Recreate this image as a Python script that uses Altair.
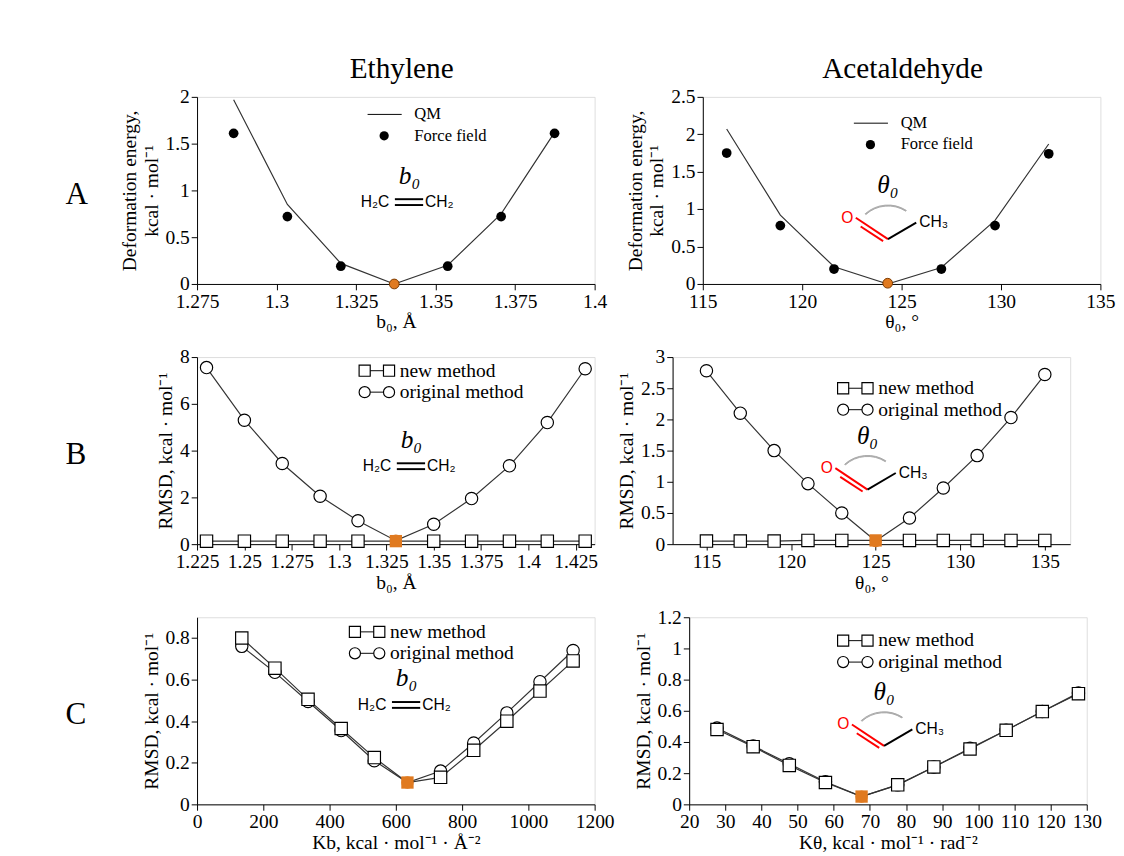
import pandas as pd
import altair as alt

SERIF = "Liberation Serif"
SANS = "Liberation Sans"
W, H = 408, 192

# ---- data ----
a_eth_x = [1.2865, 1.3034, 1.3202, 1.337, 1.3538, 1.3706, 1.3874]
a_eth_qm = [1.97, 0.85, 0.22, 0.0, 0.20, 0.75, 1.62]
a_eth_ff = [1.61, 0.72, 0.19, 0.0, 0.19, 0.72, 1.61]

a_ace_x = [116.2, 118.9, 121.6, 124.3, 127.0, 129.7, 132.4]
a_ace_qm = [2.07, 0.92, 0.23, 0.0, 0.22, 0.85, 1.87]
a_ace_ff = [1.75, 0.78, 0.20, 0.01, 0.20, 0.78, 1.74]

b_eth_x = [1.23, 1.25, 1.27, 1.29, 1.31, 1.33, 1.35, 1.37, 1.39, 1.41, 1.43]
b_eth_orig = [7.55, 5.3, 3.45, 2.05, 1.0, 0.15, 0.85, 1.95, 3.35, 5.2, 7.5]
b_eth_new = [0.13, 0.13, 0.13, 0.13, 0.13, 0.13, 0.13, 0.13, 0.13, 0.13, 0.13]

b_ace_x = [115, 117, 119, 121, 123, 125, 127, 129, 131, 133, 135]
b_ace_orig = [2.78, 2.1, 1.5, 0.97, 0.5, 0.05, 0.42, 0.9, 1.42, 2.03, 2.72]
b_ace_new = [0.05, 0.05, 0.05, 0.06, 0.06, 0.06, 0.06, 0.06, 0.06, 0.06, 0.06]

c_eth_x = [135, 235, 335, 435, 535, 635, 735, 835, 935, 1035, 1135]
c_eth_new = [0.80, 0.655, 0.505, 0.365, 0.225, 0.105, 0.13, 0.26, 0.40, 0.545, 0.69]
c_eth_orig = [0.76, 0.635, 0.495, 0.355, 0.21, 0.105, 0.16, 0.295, 0.44, 0.59, 0.74]

c_ace_x = [27.7, 37.7, 47.7, 57.7, 67.7, 77.7, 87.7, 97.7, 107.7, 117.7, 127.7]
c_ace_new = [0.48, 0.37, 0.25, 0.14, 0.05, 0.125, 0.24, 0.355, 0.475, 0.595, 0.71]
c_ace_orig = [0.49, 0.375, 0.26, 0.145, 0.05, 0.125, 0.24, 0.36, 0.475, 0.595, 0.715]

ORANGE = "#e07a20"

axis_style = dict(grid=False, labelFont=SERIF, titleFont=SERIF, labelFontSize=20, titleFontSize=20,
                  titleFontWeight="normal", labelColor="black", titleColor="black", labelOverlap=False,
                  domainColor="black", tickColor="black", labelExpr="toString(datum.value)", tickSize=6)


def xs(dom, ticks, title):
    ax = alt.Axis(values=ticks, tickCount=len(ticks), title=title, labelFlush=False, titlePadding=1,
                  **axis_style)
    return alt.Scale(domain=dom, nice=False, zero=False), ax


def ys(dom, ticks, title):
    ax = alt.Axis(values=ticks, tickCount=len(ticks), title=title, titlePadding=4, **axis_style)
    return alt.Scale(domain=dom, nice=False), ax


def txt(x, y, s, size=17, font=SERIF, color="black", style="normal", align="left"):
    return alt.Chart(pd.DataFrame({"t": [s]})).mark_text(
        font=font, fontSize=size, color=color, fontStyle=style, align=align, baseline="middle"
    ).encode(x=alt.value(x), y=alt.value(y), text="t:N")


def seg(x1, y1, x2, y2, color="black", w=1.5):
    return alt.Chart(pd.DataFrame({"a": [0]})).mark_rule(color=color, strokeWidth=w).encode(
        x=alt.value(x1), y=alt.value(y1), x2=alt.value(x2), y2=alt.value(y2))


def pt(x, y, shape, size=110, filled=False):
    return alt.Chart(pd.DataFrame({"a": [0]})).mark_point(
        shape=shape, size=size, filled=filled, color="black", strokeWidth=1.2,
        fill="black" if filled else "white", opacity=1
    ).encode(x=alt.value(x), y=alt.value(y))


def ethylene(x, y):
    return [txt(x, y, "H\u2082C", 16, SANS), seg(x + 35, y - 3, x + 64, y - 3, w=2),
            seg(x + 35, y + 3, x + 64, y + 3, w=2), txt(x + 66, y, "CH\u2082", 16, SANS),
            txt(x + 50, y - 27, "b\u2080", 26, SERIF, style="italic", align="center")]


def acetaldehyde(x, y):
    # x,y = vertex of the angle
    arc = alt.Chart(pd.DataFrame({"a": [0]})).mark_arc(
        radius=35, radius2=34, theta=5.55, theta2=6.85, color="#aaaaaa", stroke="#aaaaaa", strokeWidth=1
    ).encode(x=alt.value(x), y=alt.value(y))
    return [arc,
            seg(x - 33, y - 22, x, y, color="red", w=2),
            seg(x - 28, y - 13, x - 5, y + 2, color="red", w=2),
            seg(x, y, x + 29, y - 17, w=2),
            txt(x - 48, y - 22, "O", 16, SANS, color="red"),
            txt(x + 32, y - 17, "CH\u2083", 16, SANS),
            txt(x, y - 55, "\u03b8\u2080", 26, SERIF, style="italic", align="center")]


def legend_a(x, y):
    return [seg(x, y, x + 35, y, w=1), txt(x + 48, y, "QM", 17),
            pt(x + 17, y + 22, "circle", 90, True), txt(x + 48, y + 22, "Force field", 17)]


def legend_bc(x, y):
    out = []
    for i, (shape, lab) in enumerate([("square", "new method"), ("circle", "original method")]):
        yy = y + i * 22
        out += [seg(x, yy, x + 25, yy, w=1), pt(x, yy, shape, 130), pt(x + 25, yy, shape, 130),
                txt(x + 36, yy, lab, 20)]
    return out


def a_panel(xv, qm, ff, xsc, ysc, extra):
    df = pd.DataFrame({"x": xv, "qm": qm, "ff": ff})
    base = alt.Chart(df)
    line = base.mark_line(color="#333333", strokeWidth=1.2, clip=True).encode(
        x=alt.X("x:Q", scale=xsc[0], axis=xsc[1]), y=alt.Y("qm:Q", scale=ysc[0], axis=ysc[1]))
    dots = base.transform_filter("datum.ff > 0.05").mark_point(
        shape="circle", filled=True, color="black", size=100, opacity=1).encode(x="x:Q", y="ff:Q")
    mid = base.transform_filter("datum.ff <= 0.05").mark_point(
        shape="circle", filled=True, fill=ORANGE, stroke="#7a3a00", strokeWidth=1, size=100, opacity=1
    ).encode(x="x:Q", y="ff:Q")
    return alt.layer(line, dots, mid, *extra).properties(width=W, height=H)


def bc_panel(xv, new, orig, xsc, ysc, extra, center):
    df = pd.DataFrame({"x": xv, "new": new, "orig": orig})
    df["c"] = [1 if v == center else 0 for v in xv]
    base = alt.Chart(df)
    layers = []
    for col, shape in [("orig", "circle"), ("new", "square")]:
        layers.append(base.mark_line(color="#333333", strokeWidth=1.2).encode(
            x=alt.X("x:Q", scale=xsc[0], axis=xsc[1]), y=alt.Y(f"{col}:Q", scale=ysc[0], axis=ysc[1])))
        layers.append(base.transform_filter("datum.c == 0").mark_point(
            shape=shape, size=160, color="black", fill="white", filled=False, strokeWidth=1.2, opacity=1
        ).encode(x="x:Q", y=f"{col}:Q"))
        layers.append(base.transform_filter("datum.c == 1").mark_point(
            shape=shape, size=160, color="#7a3a00", fill=ORANGE, filled=True, strokeWidth=1, opacity=1
        ).encode(x="x:Q", y=f"{col}:Q"))
    return alt.layer(*layers, *extra).properties(width=W, height=H)


def_title = ["Deformation energy,", "kcal \u00b7 mol\u207b\u00b9"]
rmsd = "RMSD, kcal \u00b7 mol\u207b\u00b9"

pA1 = a_panel(a_eth_x, a_eth_qm, a_eth_ff,
              xs([1.275, 1.4], [1.275, 1.3, 1.325, 1.35, 1.375, 1.4], "b\u2080, \u00c5"),
              ys([0, 2], [0, 0.5, 1, 1.5, 2], def_title),
              legend_a(175, 18) + ethylene(168, 108)
              + [txt(210, -28, "Ethylene", 30, align="center"), txt(-135, 100, "A", 32)])
pA2 = a_panel(a_ace_x, a_ace_qm, a_ace_ff,
              xs([115, 135], [115, 120, 125, 130, 135], "\u03b8\u2080, \u00b0"),
              ys([0, 2.5], [0, 0.5, 1, 1.5, 2, 2.5], def_title),
              legend_a(155, 27) + acetaldehyde(190, 146)
              + [txt(205, -28, "Acetaldehyde", 30, align="center")])

pB1 = bc_panel(b_eth_x, b_eth_new, b_eth_orig,
               xs([1.225, 1.435], [1.225, 1.25, 1.275, 1.3, 1.325, 1.35, 1.375, 1.4, 1.425], "b\u2080, \u00c5"),
               ys([0, 8], [0, 2, 4, 6, 8], rmsd),
               legend_bc(172, 14) + ethylene(170, 112) + [txt(-135, 100, "B", 32)], 1.33)
pB2 = bc_panel(b_ace_x, b_ace_new, b_ace_orig,
               xs([113, 136.5], [115, 120, 125, 130, 135], "\u03b8\u2080, \u00b0"),
               ys([0, 3], [0, 0.5, 1, 1.5, 2, 2.5, 3], rmsd),
               legend_bc(175, 32) + acetaldehyde(200, 136), 125)

pC1 = bc_panel(c_eth_x, c_eth_new, c_eth_orig,
               xs([0, 1200], [0, 200, 400, 600, 800, 1000, 1200], "Kb, kcal \u00b7 mol\u207b\u00b9 \u00b7 \u00c5\u207b\u00b2"),
               ys([0, 0.9], [0, 0.2, 0.4, 0.6, 0.8], rmsd),
               legend_bc(162, 15) + ethylene(165, 90) + [txt(-135, 100, "C", 32)], 635)
pC2 = bc_panel(c_ace_x, c_ace_new, c_ace_orig,
               xs([20, 130], [20, 30, 40, 50, 60, 70, 80, 90, 100, 110, 120, 130],
                  "K\u03b8, kcal \u00b7 mol\u207b\u00b9 \u00b7 rad\u207b\u00b2"),
               ys([0, 1.2], [0, 0.2, 0.4, 0.6, 0.8, 1, 1.2], rmsd),
               legend_bc(158, 24) + acetaldehyde(200, 132), 67.7)

chart = alt.vconcat(
    alt.hconcat(pA1, pA2, spacing=18),
    alt.hconcat(pB1, pB2, spacing=18),
    alt.hconcat(pC1, pC2, spacing=18),
    spacing=14,
).configure_view(stroke="black", strokeWidth=1.2).configure(
    background="white", padding={"left": 58, "top": 36, "right": 0, "bottom": 0})

chart.save("out.html", embed_options={"renderer": "svg", "actions": False})
